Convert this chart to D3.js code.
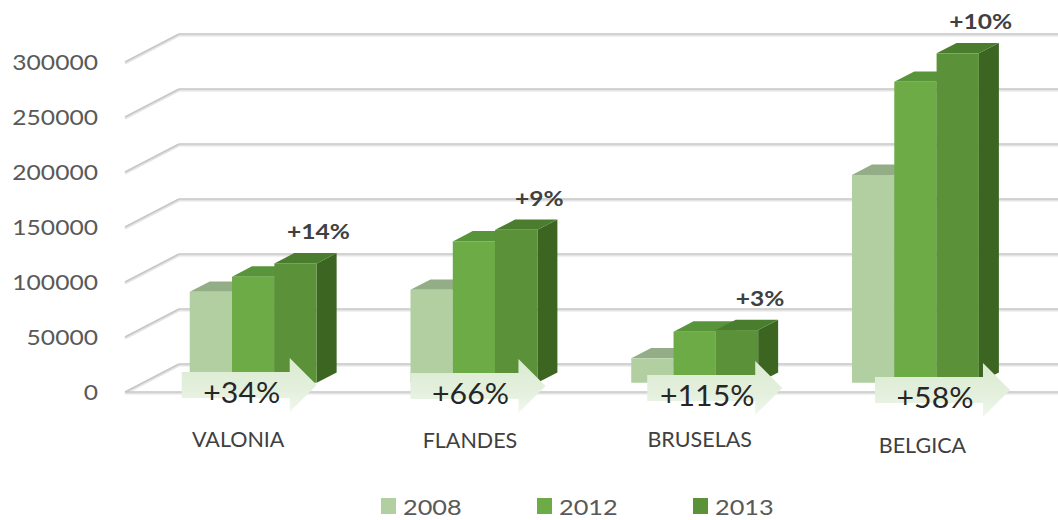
<!DOCTYPE html>
<html>
<head>
<meta charset="utf-8">
<script src="https://cdn.jsdelivr.net/npm/d3@7"></script>
<style>
  html, body { margin: 0; padding: 0; background: #ffffff; }
  svg { display: block; }
  text { font-family: Lato, "Open Sans", "Liberation Sans", sans-serif; }
</style>
</head>
<body>
<svg id="chart" width="1058" height="520"></svg>
<script>
// Regions and years
const categories = ["VALONIA", "FLANDES", "BRUSELAS", "BELGICA"];
const years = ["2008", "2012", "2013"];

// Values per year, one entry per region
const values2008 = [82700, 84500, 22200, 188900];
const values2012 = [96400, 128500, 46400, 273600];
const values2013 = [108500, 139000, 47900, 299500];

// Growth call-outs
const growth2008to2013 = ["+34%", "+66%", "+115%", "+58%"];
const growth2012to2013 = ["+14%", "+9%", "+3%", "+10%"];

// Value axis ticks
const tickValues = [0, 50000, 100000, 150000, 200000, 250000, 300000];

const seriesValues = [values2008, values2012, values2013];

// ---- layout ----
const W = 1058, H = 520;
const DX = 54, DY = -28;          // oblique offset of the full floor depth
const barZ0 = 0.33, barZ1 = 0.70; // depth slot occupied by the columns

const fills = {
  front: ["#b2cfa2", "#6cab46", "#5a9139"],
  top:   ["#93ad87", "#58943a", "#4a7d2d"],
  side:  ["#8aa67d", "#4c8231", "#3c6522"]
};

// hand placement of the annotation shapes and region names
const calloutNudge = [
  { arrowDx: -8, arrowDy: 0, nameDx: -15, nameDy: 0 },
  { arrowDx: 0,  arrowDy: 1, nameDx: -4,  nameDy: 1 },
  { arrowDx: 16, arrowDy: 3, nameDx: 5,   nameDy: 0 },
  { arrowDx: 23, arrowDy: 5, nameDx: 7,   nameDy: 6 }
];

const svg = d3.select("#chart");

const x = d3.scaleBand()
  .domain(categories)
  .range([125, 1008])
  .paddingInner(0.425)
  .paddingOuter(0.2125);

const xs = d3.scaleBand()
  .domain(years)
  .range([0, x.bandwidth()])
  .padding(0);

const y = d3.scaleLinear()
  .domain([0, 300000])
  .range([392, 62]);

const color = d3.scaleOrdinal().domain(years).range(fills.front);

function proj(px, v, z) {
  return [px + z * DX, y(v) + z * DY];
}
const poly = pts => pts.map(p => p.join(",")).join(" ");

// ---- walls and floor ----
const grid = svg.append("g").attr("class", "grid");

function wallLine(g, x1, y1, x2, y2) {
  g.append("line")
    .attr("x1", x1).attr("y1", y1 + 1.6).attr("x2", x2).attr("y2", y2 + 1.6)
    .attr("stroke", "#e4e4e4").attr("stroke-width", 2);
  g.append("line")
    .attr("x1", x1).attr("y1", y1).attr("x2", x2).attr("y2", y2)
    .attr("stroke", "#c6c6c6").attr("stroke-width", 1.6);
}

tickValues.forEach(v => {
  const front = proj(125, v, 0);
  const back = proj(125, v, 1);
  wallLine(grid, front[0], front[1], back[0], back[1]);
  wallLine(grid, back[0], back[1], W, back[1]);
});
// front edge of the floor
{
  const f = proj(125, 0, 0);
  wallLine(grid, f[0], f[1], W, f[1]);
}

// ---- value axis labels ----
const axis = d3.axisLeft(y)
  .tickValues(tickValues)
  .tickFormat(d3.format("d"))
  .tickSize(0)
  .tickPadding(0);

const axisG = svg.append("g")
  .attr("transform", "translate(98,0)")
  .call(axis);
axisG.select(".domain").remove();
axisG.selectAll("text")
  .attr("fill", "#595959")
  .attr("font-size", 22)
  .attr("dy", "0.36em")
  .attr("transform", "scale(1.12,1)")
  .style("font-family", "Lato, 'Open Sans', sans-serif");

// ---- columns ----
const bars = svg.append("g").attr("class", "bars");

categories.forEach((cat, ci) => {
  years.forEach((yr, si) => {
    const v = seriesValues[si][ci];
    const x0 = x(cat) + xs(yr);
    const x1 = x0 + xs.bandwidth();
    const g = bars.append("g");
    // right side face
    g.append("polygon")
      .attr("points", poly([proj(x1, 0, barZ0), proj(x1, v, barZ0), proj(x1, v, barZ1), proj(x1, 0, barZ1)]))
      .attr("fill", fills.side[si]);
    // top face
    g.append("polygon")
      .attr("points", poly([proj(x0, v, barZ0), proj(x1, v, barZ0), proj(x1, v, barZ1), proj(x0, v, barZ1)]))
      .attr("fill", fills.top[si]);
    // front face
    const pTop = proj(x0, v, barZ0), pBot = proj(x0, 0, barZ0);
    g.append("rect")
      .attr("x", pTop[0]).attr("y", pTop[1])
      .attr("width", xs.bandwidth())
      .attr("height", pBot[1] - pTop[1])
      .attr("fill", color(yr));
  });
});

// ---- growth arrows along the floor ----
const defs = svg.append("defs");
const grad = defs.append("linearGradient")
  .attr("id", "arrowFill").attr("x1", 0).attr("y1", 0).attr("x2", 0).attr("y2", 1);
grad.append("stop").attr("offset", "0%").attr("stop-color", "#dbead1");
grad.append("stop").attr("offset", "60%").attr("stop-color", "#e4f0dd");
grad.append("stop").attr("offset", "100%").attr("stop-color", "#f1f7ee");

const arrows = svg.append("g").attr("class", "arrows");
const bodyLen = 108, headLen = 27, bodyH = 26, headOver = 14;

categories.forEach((cat, ci) => {
  const n = calloutNudge[ci];
  const left = proj(x(cat), 0, barZ0)[0] + n.arrowDx;
  const top = y(0) - 20 + n.arrowDy;
  const pts = [
    [left, top], [left + bodyLen, top], [left + bodyLen, top - headOver],
    [left + bodyLen + headLen, top + bodyH / 2],
    [left + bodyLen, top + bodyH + headOver], [left + bodyLen, top + bodyH],
    [left, top + bodyH]
  ];
  arrows.append("polygon")
    .attr("points", poly(pts))
    .attr("fill", "url(#arrowFill)");
  arrows.append("text")
    .attr("transform", `translate(${left + bodyLen / 2 + 6},${top + 31}) scale(1.08,1)`)
    .attr("text-anchor", "middle")
    .attr("font-size", 28)
    .attr("fill", "#262626")
    .text(growth2008to2013[ci]);
});

// ---- 2012 -> 2013 growth above the last column ----
const lastYear = years[years.length - 1];
categories.forEach((cat, ci) => {
  const v = values2013[ci];
  const cx = x(cat) + xs(lastYear) + xs.bandwidth() / 2;
  const p = proj(cx, v, barZ1);
  svg.append("text")
    .attr("transform", `translate(${p[0] + 3},${p[1] - 14}) scale(1.17,1)`)
    .attr("text-anchor", "middle")
    .attr("font-size", 21)
    .attr("font-weight", "bold")
    .attr("fill", "#404040")
    .text(growth2012to2013[ci]);
});

// ---- region names ----
categories.forEach((cat, ci) => {
  const n = calloutNudge[ci];
  const cx = proj(x(cat) + x.bandwidth() / 2, 0, barZ0)[0] + n.nameDx;
  svg.append("text")
    .attr("x", cx)
    .attr("y", 447 + n.nameDy)
    .attr("text-anchor", "middle")
    .attr("font-size", 21.5)
    .attr("fill", "#404040")
    .text(cat);
});

// ---- legend ----
const legend = svg.append("g").attr("transform", "translate(381,498)");
years.forEach((yr, i) => {
  const g = legend.append("g").attr("transform", `translate(${i * 156},0)`);
  g.append("rect").attr("width", 15).attr("height", 16).attr("fill", color(yr));
  g.append("text")
    .attr("transform", "translate(22,16.5) scale(1.15,1)")
    .attr("font-size", 22)
    .attr("fill", "#595959")
    .text(yr);
});
</script>
</body>
</html>
